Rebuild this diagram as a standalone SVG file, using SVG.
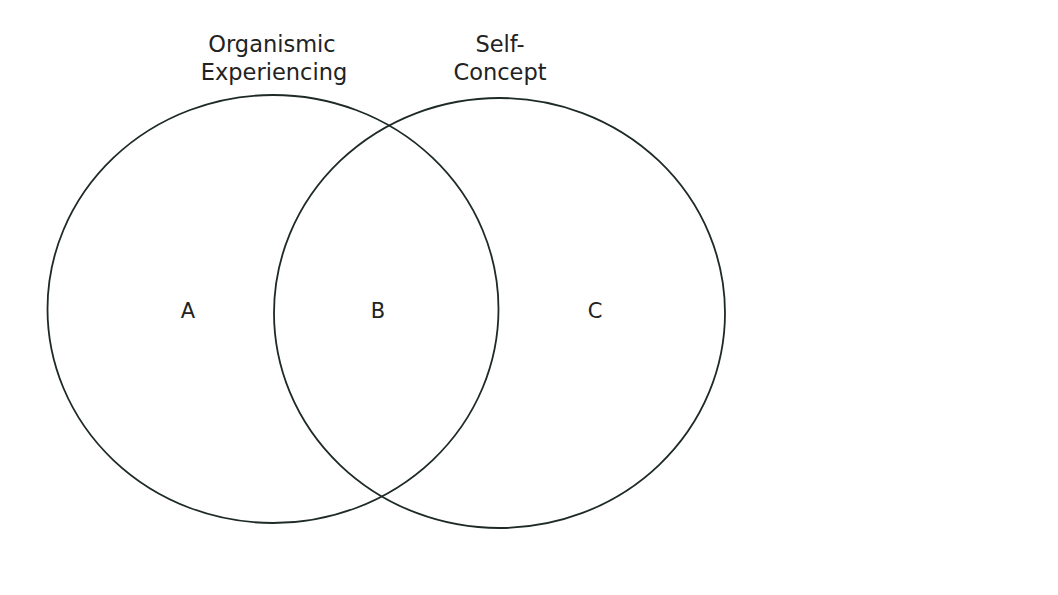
<svg xmlns="http://www.w3.org/2000/svg" width="1058" height="595" viewBox="0 0 1058 595">
<style>
.c{fill:none;stroke:#1e2a28;stroke-width:1.8}
.t{font-family:"DejaVu Sans","Liberation Sans",sans-serif;font-size:22.5px;fill:#222;text-anchor:middle}
.l{font-family:"DejaVu Sans","Liberation Sans",sans-serif;font-size:21px;fill:#222;text-anchor:middle}
</style>
<rect width="1058" height="595" fill="#fff"/>
<g id="organismic">
<ellipse class="c" cx="273" cy="309" rx="225.5" ry="214"/>
<text class="t" x="272" y="52">Organismic</text>
<text class="t" x="274" y="80">Experiencing</text>
</g>
<g id="self-concept">
<ellipse class="c" cx="499.5" cy="313" rx="225.5" ry="215"/>
<text class="t" x="500" y="52">Self-</text>
<text class="t" x="500" y="80">Concept</text>
</g>
<g id="label-a"><text class="l" x="188" y="318">A</text></g>
<g id="label-b"><text class="l" x="378" y="318">B</text></g>
<g id="label-c"><text class="l" x="595" y="318">C</text></g>
<g id="connectors"></g>
</svg>
